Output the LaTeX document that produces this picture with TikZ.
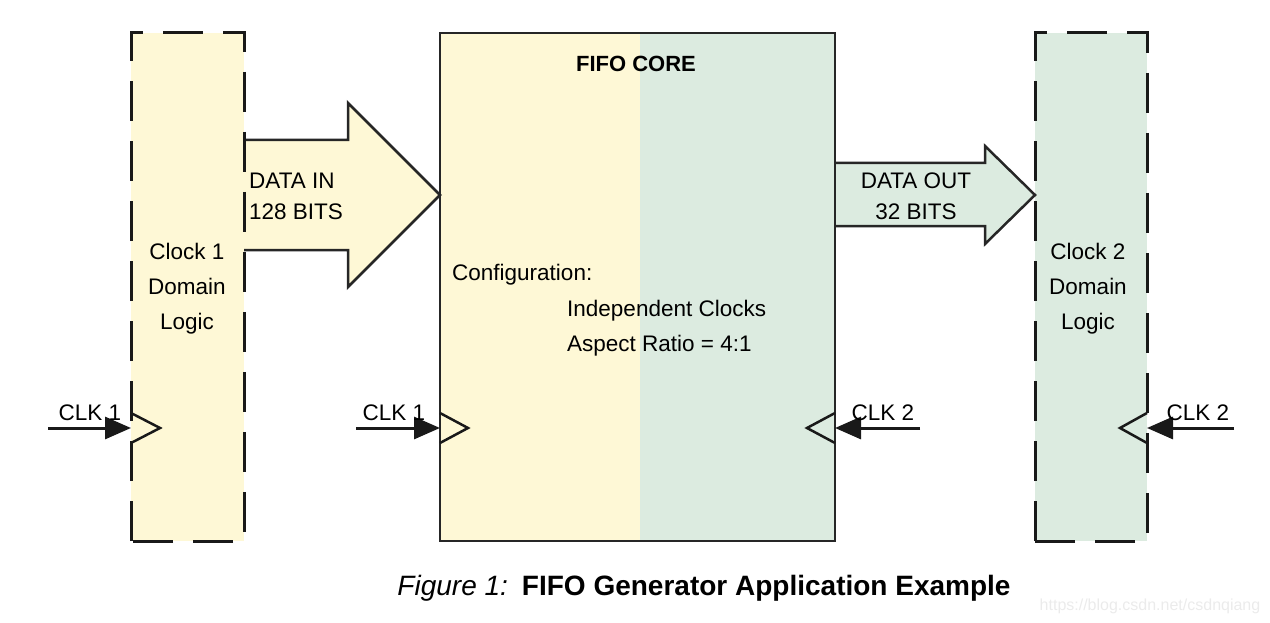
\documentclass[tikz,border=0pt]{standalone}
\usepackage{fontspec}
\setmainfont{Liberation Sans}
\usetikzlibrary{arrows.meta}
\definecolor{cream}{HTML}{FEF8D6}
\definecolor{mint}{HTML}{DCEBE0}
\tikzset{
  lbl/.style={font=\fontsize{22.5}{26}\selectfont, inner sep=0pt},
  dashbox/.style={draw=black!90, line width=3pt, dash pattern=on 40pt off 20pt},
  solidline/.style={draw=black!85, line width=2.5pt, line join=miter},
  clkarrow/.style={draw=black!90, line width=3pt, -{Triangle[length=26pt,width=22pt]}},
  clktri/.style={draw=black!90, line width=2.5pt}
}
\begin{document}
\begin{tikzpicture}[x=1pt,y=-1pt]
\useasboundingbox (0,0) rectangle (1270,623);
% box fills
\fill[cream] (131,33) rectangle (244,541);
\fill[mint] (1035,33) rectangle (1147,541);
\fill[cream] (440,33) rectangle (640,541);
\fill[mint] (640,33) rectangle (835,541);
% data in arrow
\fill[cream] (244,140) -- (348,140) -- (348,103) -- (440,195) -- (348,287) -- (348,250) -- (244,250) -- cycle;
\draw[solidline] (244,140) -- (348,140) -- (348,103) -- (440,195) -- (348,287) -- (348,250) -- (244,250);
% data out arrow
\fill[mint] (835,163) -- (985,163) -- (985,146) -- (1035,195) -- (985,244) -- (985,226) -- (835,226) -- cycle;
\draw[solidline] (835,163) -- (985,163) -- (985,146) -- (1035,195) -- (985,244) -- (985,226) -- (835,226);
% box borders
\draw[dashbox] (131,541) -- (131,33) -- (244,33) -- (244,541) -- cycle;
\draw[dashbox] (1035,541) -- (1035,33) -- (1147,33) -- (1147,541) -- cycle;
\draw[solidline] (440,33) rectangle (835,541);
% connector end points
\coordinate (l1in) at (131,428);
\coordinate (m1in) at (440,428);
\coordinate (m2in) at (835,428);
\coordinate (r2in) at (1147,428);
\coordinate (l1src) at (48,428);
\coordinate (m1src) at (356,428);
\coordinate (m2src) at (920,428);
\coordinate (r2src) at (1234,428);
% clock triangles
\draw[clktri] (131,413) -- (160,428) -- (131,443);
\draw[clktri] (440,413) -- (468,428) -- (440,443);
\draw[clktri] (835,413) -- (807,428) -- (835,443);
\draw[clktri] (1147,413) -- (1120,428) -- (1147,443);
% clock arrows
\draw[clkarrow] (l1src) -- (l1in);
\draw[clkarrow] (m1src) -- (m1in);
\draw[clkarrow] (m2src) -- (m2in);
\draw[clkarrow] (r2src) -- (r2in);
% labels
\node[lbl] (clkl1) at (90,413) {CLK 1};
\node[lbl] (clkm1) at (394,413) {CLK 1};
\node[lbl] (clkm2) at (883,413) {CLK 2};
\node[lbl] (clkr2) at (1198,413) {CLK 2};
\node[lbl, font=\bfseries\fontsize{22}{26}\selectfont] (core) at (636,64) {FIFO CORE};
\node[lbl, align=left, anchor=west, font=\fontsize{22.5}{31}\selectfont] (din) at (249,196) {DATA IN\\128 BITS};
\node[lbl, align=center, font=\fontsize{22.5}{31}\selectfont] (dout) at (916,196) {DATA OUT\\32 BITS};
\node[lbl, align=center, font=\fontsize{22.5}{35}\selectfont] (c1) at (187,289) {Clock 1\\Domain\\Logic};
\node[lbl, align=center, font=\fontsize{22.5}{35}\selectfont] (c2) at (1088,289) {Clock 2\\Domain\\Logic};
\node[lbl, anchor=west] (cfg) at (452,275) {Configuration:};
\node[lbl, anchor=west] (ic) at (567,311) {Independent Clocks};
\node[lbl, anchor=west] (ar) at (567,346) {Aspect Ratio = 4:1};
\node[inner sep=0pt, font=\fontsize{28}{32}\selectfont] (cap) at (704,588) {\textit{Figure 1:}\hspace{0.5em}\textbf{FIFO Generator Application Example}};
\node[inner sep=0pt, text=black!8, font=\fontsize{16}{18}\selectfont] (wm) at (1150,606) {https://blog.csdn.net/csdnqiang};
\end{tikzpicture}
\end{document}
